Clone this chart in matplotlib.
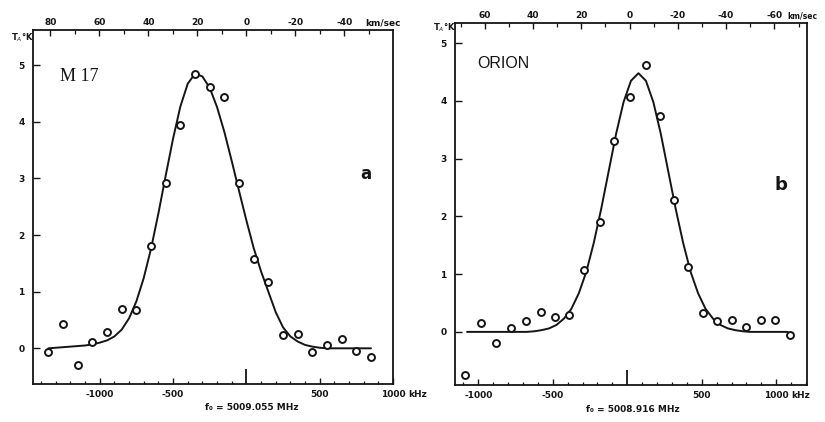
import matplotlib
matplotlib.use("Agg")
import matplotlib.pyplot as plt
from matplotlib.ticker import FixedLocator

# ---------------- data ----------------
# Panel a : M 17   (frequency offset in kHz, antenna temperature in K)
m17_freq = [-1350, -1250, -1150, -1050, -950, -850, -750, -650, -550, -450, -350,
            -250, -150, -50, 50, 150, 250, 350, 450, 550, 650, 750, 850]
m17_temp = [-0.07, 0.43, -0.30, 0.11, 0.29, 0.69, 0.67, 1.81, 2.92, 3.94, 4.85,
            4.61, 4.44, 2.92, 1.57, 1.17, 0.23, 0.26, -0.07, 0.06, 0.17, -0.04, -0.16]

# fitted profile of panel a, sampled along the drawn curve
m17_fit_freq = [-1350, -1300, -1250, -1200, -1150, -1100, -1050, -1000, -950, -900,
                -850, -800, -750, -700, -650, -600, -550, -500, -450, -400, -350,
                -300, -250, -200, -150, -100, -50, 0, 50, 100, 150, 200, 250, 300,
                350, 400, 450, 500, 550, 600, 650, 700, 750, 800, 850]
m17_fit_temp = [0.00, 0.01, 0.02, 0.03, 0.04, 0.05, 0.07, 0.10, 0.14, 0.21,
                0.33, 0.53, 0.83, 1.24, 1.76, 2.38, 3.05, 3.70, 4.27, 4.67, 4.85,
                4.80, 4.60, 4.26, 3.82, 3.31, 2.78, 2.26, 1.77, 1.36, 1.00, 0.64,
                0.37, 0.21, 0.12, 0.06, 0.03, 0.01, 0.00, 0.00, 0.00, 0.00, 0.00,
                0.00, 0.00]

# Panel b : ORION
ori_freq = [-1090, -980, -880, -780, -680, -580, -485, -390, -290, -185, -87, 18,
            125, 220, 313, 405, 505, 600, 700, 796, 895, 990, 1090]
ori_temp = [-0.75, 0.16, -0.19, 0.06, 0.19, 0.35, 0.25, 0.29, 1.07, 1.90, 3.31, 4.06,
            4.63, 3.74, 2.28, 1.12, 0.32, 0.19, 0.20, 0.08, 0.20, 0.20, -0.06]

ori_fit_freq = [-1075, -1025, -975, -925, -875, -825, -775, -725, -675, -625, -575,
                -525, -475, -425, -375, -325, -275, -225, -175, -125, -75, -25, 25,
                75, 125, 175, 225, 275, 325, 375, 425, 475, 525, 575, 625, 675, 725,
                775, 825, 875, 925, 975, 1025, 1075, 1095]
ori_fit_temp = [0.00, 0.00, 0.00, 0.00, 0.00, 0.00, 0.00, 0.00, 0.00, 0.01, 0.03,
                0.06, 0.12, 0.23, 0.40, 0.67, 1.04, 1.54, 2.13, 2.78, 3.43, 3.98, 4.35,
                4.48, 4.35, 3.98, 3.43, 2.78, 2.13, 1.54, 1.04, 0.67, 0.40, 0.23, 0.12,
                0.06, 0.03, 0.01, 0.00, 0.00, 0.00, 0.00, 0.00, 0.00, -0.04]

# axis ticks / labels
freq_major = [-1000, -500, 0, 500, 1000]
freq_major_labels = ["-1000", "-500", "", "500", "1000"]
freq_minor = list(range(-1400, 1250, 100))
temp_ticks = [0, 1, 2, 3, 4, 5]
m17_vel_ticks = [80, 60, 40, 20, 0, -20, -40]
ori_vel_ticks = [60, 40, 20, 0, -20, -40, -60]
m17_rest = "f₀ = 5009.055 MHz"
ori_rest = "f₀ = 5008.916 MHz"

# ---------------- figure ----------------
INK = "#151515"
fig = plt.figure(figsize=(8.25, 4.22), dpi=100)
fig.patch.set_facecolor("white")

axL = fig.add_axes([33 / 825, 1 - 384 / 422, 360 / 825, 354 / 422])
axR = fig.add_axes([455 / 825, 1 - 385 / 422, 352 / 825, 362 / 422])

tick_font = dict(fontsize=6.5, fontweight="bold", family="DejaVu Sans", color=INK)


def style(ax, xlim, ylim, vel_ticks, kpv, off):
    ax.set_xlim(*xlim)
    ax.set_ylim(*ylim)
    for s in ax.spines.values():
        s.set_linewidth(1.3)
        s.set_color(INK)
    # bottom frequency axis
    ax.xaxis.set_major_locator(FixedLocator(freq_major))
    ax.set_xticklabels(freq_major_labels, **tick_font)
    ax.xaxis.set_minor_locator(FixedLocator(freq_minor))
    ax.tick_params(axis="x", which="major", direction="in", length=4, width=1.0,
                   pad=4, colors=INK, top=False)
    ax.tick_params(axis="x", which="minor", direction="in", length=2.5, width=0.9,
                   top=False, colors=INK)
    for t, v in zip(ax.xaxis.get_major_ticks(), freq_major):
        if v == 0:
            t.tick1line.set_markersize(11)
            t.tick1line.set_markeredgewidth(1.3)
    # left temperature axis
    ax.set_yticks(temp_ticks)
    ax.set_yticklabels([str(v) for v in temp_ticks], **tick_font)
    ax.tick_params(axis="y", direction="in", length=5, width=1.0, pad=6,
                   colors=INK, right=False)
    # top velocity axis
    top = ax.twiny()
    top.set_xlim(*xlim)
    top.set_xticks([-kpv * v + off for v in vel_ticks])
    top.set_xticklabels([str(v) for v in vel_ticks], **tick_font)
    minor_v = list(range(max(vel_ticks) + 10, min(vel_ticks) - 30, -10))
    top.xaxis.set_minor_locator(FixedLocator([-kpv * v + off for v in minor_v]))
    top.tick_params(axis="x", which="major", direction="in", length=4, width=1.0,
                    pad=2, colors=INK)
    top.tick_params(axis="x", which="minor", direction="in", length=3, width=0.9,
                    colors=INK)
    for s in top.spines.values():
        s.set_visible(False)
    return top


topL = style(axL, (-1455, 1000), (-0.63, 5.62), m17_vel_ticks, 16.7, 0)
topR = style(axR, (-1156, 1206), (-0.92, 5.35), ori_vel_ticks, 16.2, 15)

# data
for ax, fx, fy, px, py in ((axL, m17_fit_freq, m17_fit_temp, m17_freq, m17_temp),
                           (axR, ori_fit_freq, ori_fit_temp, ori_freq, ori_temp)):
    ax.plot(fx, fy, color=INK, lw=1.4, solid_capstyle="round", zorder=2)
    ax.plot(px, py, linestyle="none", marker="o", ms=5, mfc="white", mec=INK,
            mew=1.4, zorder=3)

# unit labels
for ax in (axL, axR):
    ax.annotate("kHz", xy=(1000, 0), xycoords=("data", "axes fraction"),
                xytext=(11, -4), textcoords="offset points", va="top", ha="left",
                annotation_clip=False, **tick_font)
axL.annotate("km/sec", xy=(932, 1), xycoords=("data", "axes fraction"),
             xytext=(0, 2), textcoords="offset points", va="bottom", ha="center",
             annotation_clip=False, **tick_font)
axR.annotate("km/sec", xy=(1075, 1), xycoords=("data", "axes fraction"),
             xytext=(0, 2), textcoords="offset points", va="bottom", ha="left",
             annotation_clip=False, fontsize=5.5, fontweight="bold",
             family="DejaVu Sans", color=INK)

# panel texts
axL.text(0.128, 0.870, "M 17", transform=axL.transAxes, fontsize=13,
         family="Liberation Serif", ha="center", va="center", color=INK)
axL.text(0.925, 0.592, "a", transform=axL.transAxes, fontsize=12,
         fontweight="bold", family="DejaVu Sans", ha="center", va="center", color=INK)
axR.text(0.136, 0.887, "ORION", transform=axR.transAxes, fontsize=11.5,
         family="Liberation Sans", ha="center", va="center", color=INK)
axR.text(0.926, 0.552, "b", transform=axR.transAxes, fontsize=13,
         fontweight="bold", family="DejaVu Sans", ha="center", va="center", color=INK)

fig.text(22 / 825, 1 - 38 / 422, "T$_A$°K", fontsize=6, fontweight="bold",
         ha="center", va="center", color=INK)
fig.text(444 / 825, 1 - 28 / 422, "T$_A$°K", fontsize=6, fontweight="bold",
         ha="center", va="center", color=INK)

fig.text(252 / 825, 1 - 408 / 422, m17_rest, ha="center", va="center", **tick_font)
fig.text(633 / 825, 1 - 410 / 422, ori_rest, ha="center", va="center", **tick_font)

fig.savefig("out.png", dpi=100, facecolor="white")
